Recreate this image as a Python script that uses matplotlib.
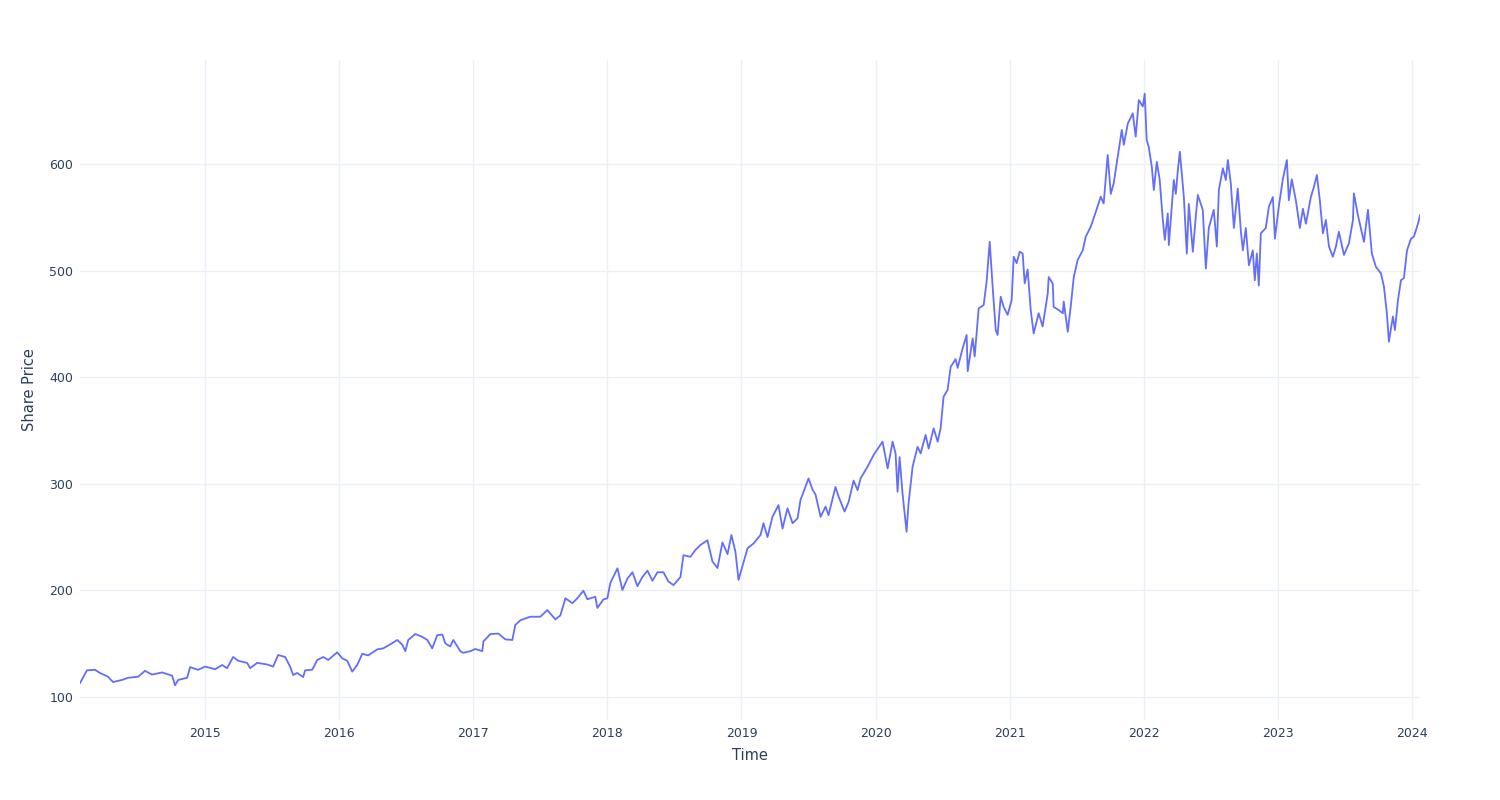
import matplotlib
matplotlib.use("Agg")
import matplotlib.pyplot as plt

# share price, time as decimal year
years = [
    2014.067, 2014.119, 2014.179, 2014.216, 2014.276, 2014.313, 2014.381, 2014.425, 2014.500, 2014.552,
    2014.604, 2014.679, 2014.754, 2014.776, 2014.799, 2014.866, 2014.888, 2014.948, 2015.000, 2015.075,
    2015.127, 2015.164, 2015.209, 2015.246, 2015.313, 2015.336, 2015.388, 2015.463, 2015.507, 2015.545,
    2015.597, 2015.634, 2015.657, 2015.687, 2015.731, 2015.746, 2015.799, 2015.836, 2015.881, 2015.918,
    2015.985, 2016.022, 2016.060, 2016.097, 2016.134, 2016.172, 2016.216, 2016.284, 2016.328, 2016.381,
    2016.433, 2016.470, 2016.493, 2016.515, 2016.567, 2016.619, 2016.657, 2016.694, 2016.731, 2016.769,
    2016.791, 2016.828, 2016.851, 2016.903, 2016.925, 2016.978, 2017.015, 2017.067, 2017.075, 2017.127,
    2017.187, 2017.239, 2017.291, 2017.313, 2017.351, 2017.425, 2017.500, 2017.552, 2017.612, 2017.649,
    2017.687, 2017.739, 2017.776, 2017.821, 2017.851, 2017.910, 2017.925, 2017.970, 2018.000, 2018.022,
    2018.075, 2018.112, 2018.149, 2018.187, 2018.224, 2018.261, 2018.299, 2018.336, 2018.373, 2018.418,
    2018.455, 2018.493, 2018.545, 2018.567, 2018.619, 2018.657, 2018.694, 2018.746, 2018.784, 2018.821,
    2018.858, 2018.896, 2018.925, 2018.955, 2018.978, 2019.007, 2019.045, 2019.090, 2019.142, 2019.164,
    2019.194, 2019.231, 2019.276, 2019.306, 2019.343, 2019.381, 2019.418, 2019.440, 2019.500, 2019.530,
    2019.552, 2019.590, 2019.627, 2019.649, 2019.701, 2019.724, 2019.754, 2019.769, 2019.799, 2019.836,
    2019.866, 2019.888, 2019.940, 2019.985, 2020.052, 2020.090, 2020.127, 2020.149, 2020.164, 2020.179,
    2020.201, 2020.231, 2020.246, 2020.276, 2020.313, 2020.336, 2020.373, 2020.396, 2020.433, 2020.463,
    2020.485, 2020.507, 2020.537, 2020.560, 2020.597, 2020.612, 2020.649, 2020.679, 2020.687, 2020.724,
    2020.739, 2020.769, 2020.806, 2020.828, 2020.851, 2020.873, 2020.896, 2020.910, 2020.933, 2020.955,
    2020.985, 2021.015, 2021.030, 2021.052, 2021.075, 2021.097, 2021.112, 2021.134, 2021.157, 2021.179,
    2021.216, 2021.246, 2021.284, 2021.291, 2021.321, 2021.328, 2021.366, 2021.396, 2021.403, 2021.433,
    2021.455, 2021.478, 2021.507, 2021.545, 2021.567, 2021.604, 2021.642, 2021.679, 2021.701, 2021.731,
    2021.754, 2021.776, 2021.806, 2021.836, 2021.851, 2021.881, 2021.918, 2021.940, 2021.963, 2021.993,
    2022.007, 2022.022, 2022.037, 2022.060, 2022.075, 2022.097, 2022.119, 2022.142, 2022.157, 2022.179,
    2022.187, 2022.224, 2022.239, 2022.254, 2022.269, 2022.299, 2022.321, 2022.336, 2022.366, 2022.388,
    2022.403, 2022.440, 2022.463, 2022.485, 2022.522, 2022.545, 2022.560, 2022.590, 2022.612, 2022.627,
    2022.649, 2022.672, 2022.701, 2022.724, 2022.739, 2022.761, 2022.784, 2022.813, 2022.828, 2022.843,
    2022.858, 2022.873, 2022.910, 2022.933, 2022.963, 2022.978, 2023.007, 2023.037, 2023.067, 2023.082,
    2023.104, 2023.134, 2023.164, 2023.187, 2023.209, 2023.246, 2023.269, 2023.291, 2023.313, 2023.336,
    2023.358, 2023.381, 2023.410, 2023.433, 2023.455, 2023.493, 2023.530, 2023.560, 2023.567, 2023.597,
    2023.634, 2023.642, 2023.672, 2023.701, 2023.731, 2023.769, 2023.791, 2023.813, 2023.828, 2023.858,
    2023.873, 2023.896, 2023.918, 2023.940, 2023.963, 2023.993, 2024.015, 2024.045, 2024.060,
]
price = [
    113, 125, 125.5, 122.5, 119, 114, 116, 118, 119, 124.5,
    121, 123, 120, 111, 116, 118, 128, 125.5, 128.5, 126,
    130, 127, 137.5, 134, 132, 127, 132, 130.5, 128.5, 139.4,
    137.5, 128.4, 120.6, 122.5, 118.7, 125, 125.6, 134.7, 137.5, 134.7,
    141.9, 136.4, 134, 123.8, 130, 140.5, 139, 144.7, 145.6, 149.4,
    153.5, 149, 143, 153.5, 159, 156.5, 153.5, 145.6, 158, 158.6,
    150.3, 147.4, 153.5, 143, 141.4, 143, 145, 143, 152, 159,
    159.5, 154, 153.5, 167.5, 172, 175.3, 175.3, 181.6, 172.8, 176.5,
    192.6, 188, 192.6, 199.7, 191.7, 194, 183.5, 191.5, 192.6, 207,
    220.7, 200.4, 211, 217, 204, 212.5, 218.5, 209, 217, 217,
    208.4, 205, 212.5, 233, 231.5, 238, 242.6, 247, 227, 221,
    245, 234, 252, 236, 209.8, 222.5, 239.5, 244, 252, 263,
    250, 269, 280, 258, 277, 263, 267.6, 284.8, 305, 294.5,
    290, 269, 278.6, 270.6, 297, 288, 278.6, 274, 283, 303,
    294, 305, 316, 327, 339.5, 314.5, 339.5, 328.5, 292.6, 325,
    291, 255, 281.7, 316, 334.7, 328.5, 345.8, 333, 352, 339.5,
    352, 381.7, 388, 409.7, 417, 408.7, 427, 439.6, 405.6, 436.5,
    419.5, 464.6, 467.7, 489.6, 527, 484.9, 444.3, 439.6, 475.5, 466,
    458.5, 472.5, 513, 507, 517.7, 516, 488, 501, 463, 441,
    460, 447.6, 478.7, 494, 488, 466, 463, 460, 471, 442.6,
    466, 494, 510, 519, 531.8, 541, 555, 569.3, 563, 608.5,
    572, 582, 607, 632, 618, 638, 647.5, 625.7, 660, 654,
    666, 622.5, 616, 597.4, 575.6, 602, 585, 547.5, 528.8, 553.6,
    524, 585, 572, 594, 611.5, 569, 516, 562.6, 517.7, 550.6,
    571, 557, 502, 540, 557, 522.6, 575.6, 596, 585, 603.8,
    582, 540, 577, 537, 519, 540, 505, 519, 491, 516,
    486, 535, 540, 560, 569, 530, 560, 585.6, 603.8, 566,
    585.6, 566, 540, 558, 544, 569, 578.6, 589.7, 566, 535,
    547.5, 522.6, 513, 522.6, 536.5, 514.7, 525.6, 547.5, 572.5, 552,
    531.8, 527, 557, 516, 503.6, 497.4, 485, 460, 433.3, 457,
    444.3, 472.5, 491, 493, 519, 530, 532, 544, 552,
]
year_ticks = [2015, 2016, 2017, 2018, 2019, 2020, 2021, 2022, 2023, 2024]
price_ticks = [100, 200, 300, 400, 500, 600]

text_col = '#2a3f5f'
grid_col = '#ebf0f8'

fig = plt.figure(figsize=(15, 8), dpi=100)
ax = fig.add_axes([80/1500, 80/800, 1340/1500, 660/800])

ax.plot(years, price, color='#636efa', linewidth=1.3, solid_joinstyle='round')

ax.set_xlim(min(years), max(years))
ax.set_ylim(78.4, 697.6)
ax.set_xticks(year_ticks)
ax.set_xticklabels([str(y) for y in year_ticks])
ax.set_yticks(price_ticks)

ax.grid(True, color=grid_col, linewidth=1)
ax.set_axisbelow(True)
for s in ax.spines.values():
    s.set_visible(False)
ax.tick_params(length=0, labelsize=9, labelcolor=text_col, pad=5)

ax.set_xlabel('Time', fontsize=10.5, color=text_col, labelpad=6)
ax.set_ylabel('Share Price', fontsize=10.5, color=text_col, labelpad=9)

fig.savefig('out.png', dpi=100)
